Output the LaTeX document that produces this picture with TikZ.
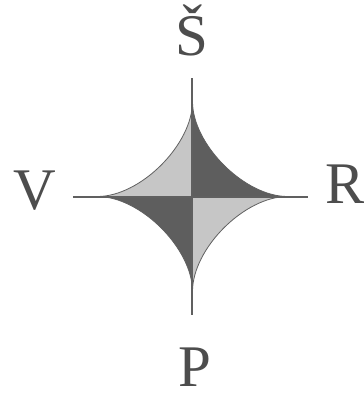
\documentclass[tikz,border=0pt]{standalone}
\usepackage{fontspec}
\setmainfont{Liberation Serif}
\definecolor{lightsec}{HTML}{C6C6C6}
\definecolor{darksec}{HTML}{5E5E5E}
\definecolor{axisgray}{HTML}{606060}
\definecolor{labelgray}{HTML}{4D4D4D}
\begin{document}
\begin{tikzpicture}[x=1pt, y=1pt]

% --- Styles ---
\tikzset{
    lightsector/.style={fill=lightsec},
    darksector/.style={fill=darksec},
    outline/.style={draw=axisgray, line width=0.8pt},
    axis/.style={draw=axisgray, line width=2pt},
    compass/.style={text=labelgray, font=\fontsize{59}{59}\selectfont, anchor=base, inner sep=0pt}
}

\useasboundingbox (-192.5, -203.5) rectangle (171.5, 196.5);

% Punten van de ster
\coordinate (c) at (0, 0);
\coordinate (tipN) at (0, 95);
\coordinate (tipE) at (95, 0);
\coordinate (tipS) at (0, -95);
\coordinate (tipW) at (-95, 0);

% Uiteinden van de assen
\coordinate (endN) at (0, 118.5);
\coordinate (endE) at (116, 0);
\coordinate (endS) at (0, -118.5);
\coordinate (endW) at (-119.5, 0);

% Sectoren
\path[darksector]  (c) -- (tipN) .. controls (0, 52) and (52, 0) .. (tipE) -- cycle;
\path[lightsector] (c) -- (tipE) .. controls (52, 0) and (0, -52) .. (tipS) -- cycle;
\path[darksector]  (c) -- (tipS) .. controls (0, -52) and (-52, 0) .. (tipW) -- cycle;
\path[lightsector] (c) -- (tipW) .. controls (-52, 0) and (0, 52) .. (tipN) -- cycle;

% Rand van de ster
\draw[outline] (tipN) .. controls (0, 52) and (52, 0) .. (tipE)
    .. controls (52, 0) and (0, -52) .. (tipS)
    .. controls (0, -52) and (-52, 0) .. (tipW)
    .. controls (-52, 0) and (0, 52) .. (tipN);

% Assen
\draw[axis] (endW) -- (endE);
\draw[axis] (endN) -- (endS);

% Windrichtingen
\node[compass] (north) at (-0.5, 141.5) {Š};
\node[compass] (west)  at (-157.5, -13) {V};
\node[compass] (east)  at (153, -6.8) {R};
\node[compass] (south) at (2.5, -190) {P};

\end{tikzpicture}
\end{document}
